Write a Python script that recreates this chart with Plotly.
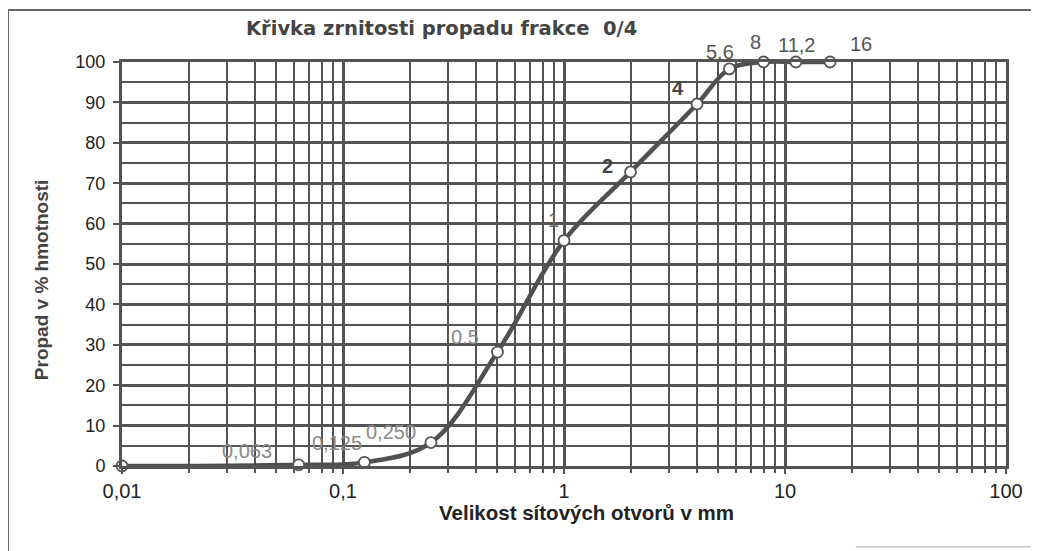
import math
import plotly.graph_objects as go

# sieve sizes (mm) and passing percentages
sieve_mm = [0.01, 0.063, 0.125, 0.25, 0.5, 1, 2, 4, 5.6, 8, 11.2, 16]
passing = [0, 0.3, 0.9, 5.8, 28.2, 55.8, 72.8, 89.6, 98.3, 100, 100, 100]

point_labels = ["", "0,063", "0,125", "0,250", "0.5", "1", "<b>2</b>", "<b>4</b>", "5,6", "8", "11,2", "16"]
label_dx = [0, -52, -27, -40, -32, -11, -23, -19, -9, -8, 1, 31]
label_dy = [0, 14, 19, 11, 15, 21, 6, 16, 17, 20, 17, 18]
label_col = ["#777", "#8a8a8a", "#8a8a8a", "#8a8a8a", "#8a8a8a", "#666", "#444", "#444", "#555", "#555", "#555", "#555"]

x_tickvals = [0.01, 0.1, 1, 10, 100]
x_ticktext = ["0,01", "0,1", "1", "10", "100"]
y_tickvals = list(range(0, 101, 10))

title = "Křivka zrnitosti propadu frakce  0/4"
x_title = "Velikost sítových otvorů v mm"
y_title = "Propad v % hmotnosti"

GRID = "#545454"
FONT = "Liberation Sans, Arial, sans-serif"

fig = go.Figure()
fig.add_trace(go.Scatter(
    x=sieve_mm, y=passing, mode="lines+markers",
    line=dict(color="#505050", width=4.5, shape="spline", smoothing=1.0),
    marker=dict(size=11, color="white", line=dict(color="#555555", width=1.8)),
    hoverinfo="x+y", showlegend=False, cliponaxis=False,
))

for xv, yv, t, dx, dy, c in zip(sieve_mm, passing, point_labels, label_dx, label_dy, label_col):
    if not t:
        continue
    fig.add_annotation(x=math.log10(xv), y=yv, xref="x", yref="y", text=t, showarrow=False,
                       xshift=dx, yshift=dy, xanchor="center", yanchor="middle",
                       font=dict(family=FONT, size=20, color=c))

fig.update_xaxes(
    type="log", range=[-2, 2],
    tickvals=x_tickvals, ticktext=x_ticktext,
    showgrid=True, gridcolor=GRID, gridwidth=2.5,
    showline=True, linecolor=GRID, linewidth=3, mirror=True,
    ticks="outside", ticklen=5, tickcolor=GRID, tickwidth=2,
    ticklabelstandoff=0,
    minor=dict(dtick="D1", showgrid=True, gridcolor=GRID, gridwidth=2.2,
               ticks="outside", ticklen=4, tickcolor=GRID, tickwidth=2),
    tickfont=dict(family=FONT, size=20, color="#222"),
    zeroline=False,
)
fig.update_yaxes(
    range=[0, 100], tickvals=y_tickvals,
    showgrid=True, gridcolor=GRID, gridwidth=2.5,
    showline=True, linecolor=GRID, linewidth=3, mirror=True,
    ticks="outside", ticklen=6, tickcolor=GRID, tickwidth=2,
    ticklabelstandoff=4,
    minor=dict(dtick=5, showgrid=True, gridcolor=GRID, gridwidth=1.6),
    tickfont=dict(family=FONT, size=18, color="#222"),
    zeroline=False,
)

# titles
fig.add_annotation(x=0.361, y=1.084, xref="paper", yref="paper", text="<b>" + title + "</b>",
                   xanchor="center", yanchor="middle",
                   showarrow=False, font=dict(family="DejaVu Sans, sans-serif", size=19.5, color="#444"))
fig.add_annotation(x=0.525, y=-0.116, xref="paper", yref="paper", text="<b>" + x_title + "</b>",
                   xanchor="center", yanchor="middle",
                   showarrow=False, font=dict(family=FONT, size=20.5, color="#222"))
fig.add_annotation(x=-0.0916, y=0.46, xref="paper", yref="paper", text="<b>" + y_title + "</b>",
                   xanchor="center", yanchor="middle",
                   textangle=-90, showarrow=False, font=dict(family=FONT, size=19, color="#444"))

# outer scanned frame
fig.add_shape(type="line", xref="paper", yref="paper", x0=-0.129, x1=1.05, y0=1.129, y1=1.129,
              line=dict(color="#666", width=2))
fig.add_shape(type="line", xref="paper", yref="paper", x0=-0.129, x1=-0.129, y0=1.129, y1=-0.22,
              line=dict(color="#666", width=2))
fig.add_shape(type="line", xref="paper", yref="paper", x0=0.83, x1=1.05, y0=-0.2, y1=-0.2,
              line=dict(color="#aaa", width=1))

fig.update_layout(
    width=1031, height=543,
    margin=dict(l=114, r=33, t=54, b=85),
    paper_bgcolor="white", plot_bgcolor="white",
    font=dict(family=FONT),
)

fig.write_html("out.html")
